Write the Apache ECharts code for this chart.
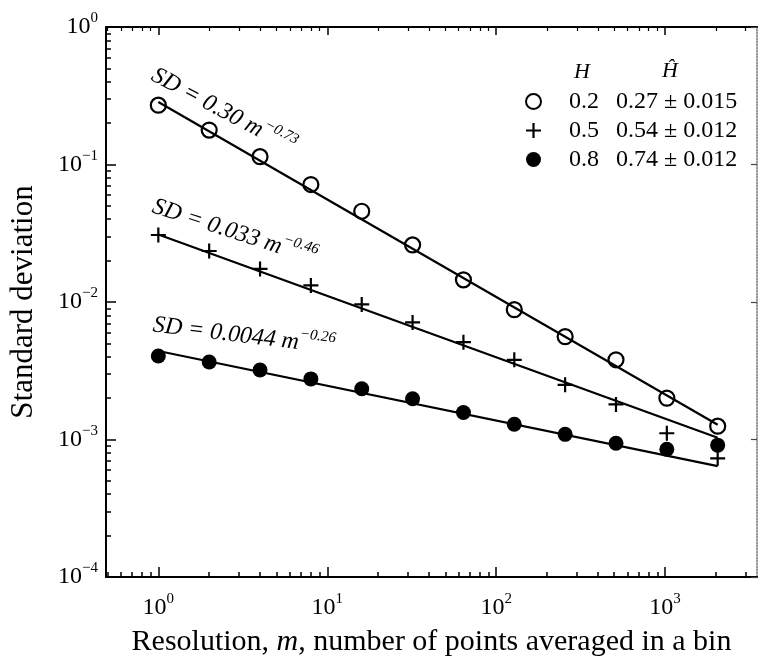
<!DOCTYPE html>
<html><head><meta charset="utf-8">
<script src="https://cdn.jsdelivr.net/npm/echarts@6/dist/echarts.min.js"></script>
<style>html,body{margin:0;padding:0;background:#fff}#c{width:760px;height:662px}</style>
</head><body><div id="c"></div>
<script>
// ---- data ----
const resolution = [1, 2, 4, 8, 16, 32, 64, 128, 256, 512, 1024, 2048];
const sdH02 = [0.27, 0.178, 0.114, 0.0715, 0.0457, 0.026, 0.0145, 0.0088, 0.0056, 0.0038, 0.0020, 0.00125];
const sdH05 = [0.0307, 0.0235, 0.0174, 0.0132, 0.0096, 0.0071, 0.0051, 0.0038, 0.0025, 0.0018, 0.00111, 0.00073];
const sdH08 = [0.00405, 0.00366, 0.0032, 0.00276, 0.00234, 0.00198, 0.00157, 0.00129, 0.00109, 0.00094, 0.00085, 0.00091];
const fitRange = [1, 2048];
const fitH02 = [0.285, 0.00128];
const fitH05 = [0.031, 0.00103];
const fitH08 = [0.0044, 0.00064];
const hValues = ['0.2', '0.5', '0.8'];
const hEstimates = ['0.27 ± 0.015', '0.54 ± 0.012', '0.74 ± 0.012'];
const fitLabels = [['SD = 0.30 m', '−0.73'], ['SD = 0.033 m', '−0.46'], ['SD = 0.0044 m', '−0.26']];
const xMajor = [1, 10, 100, 1000];
const yMajor = [1e-4, 1e-3, 1e-2, 1e-1, 1];
const xRange = [0.49, 3500];
const yRange = [1e-4, 1];

function minorTicks(decades, lo, hi) {
  const out = [];
  decades.forEach(d => { for (let k = 2; k <= 9; k++) { const v = +(d * k).toPrecision(3); if (v >= lo && v <= hi) out.push(v); } });
  return out;
}
const xMinor = minorTicks([0.1, 1, 10, 100, 1000], xRange[0], xRange[1]);
const yMinor = minorTicks([1e-4, 1e-3, 1e-2, 1e-1], yRange[0], yRange[1]);

const SERIF = '"Liberation Serif", "Times New Roman", serif';
function powLabel(v) {
  const e = Math.round(Math.log10(v));
  return '{b|10}{s|' + (e < 0 ? '−' + (-e) : e) + '}';
}
const powRich = {
  b: { fontFamily: SERIF, fontSize: 24, color: '#000' },
  s: { fontFamily: SERIF, fontSize: 15, color: '#000', padding: [0, 0, 17, 0] }
};
const PLUS = 'path://M6.4,0H8.6V6.4H15V8.6H8.6V15H6.4V8.6H0V6.4H6.4Z';

const chart = echarts.init(document.getElementById('c'), null, { renderer: 'canvas' });

function baseX(extra) {
  return Object.assign({ type: 'log', gridIndex: 0, min: xRange[0], max: xRange[1], splitLine: { show: false }, axisLabel: { show: false }, axisLine: { show: false } }, extra);
}
function baseY(extra) {
  return Object.assign({ type: 'log', gridIndex: 0, min: yRange[0], max: yRange[1], splitLine: { show: false }, axisLabel: { show: false }, axisLine: { show: false } }, extra);
}

const option = {
  animation: false,
  backgroundColor: '#fff',
  grid: { left: 105, right: 3, top: 27, bottom: 80, containLabel: false },
  xAxis: [
    baseX({ position: 'bottom',
      axisLine: { show: true, onZero: false, lineStyle: { color: '#000', width: 2 } },
      axisTick: { show: true, inside: true, length: 10, customValues: xMajor, lineStyle: { color: '#000', width: 1.5 } },
      axisLabel: { show: true, customValues: xMajor, margin: 15, formatter: powLabel, rich: powRich },
      name: 'Resolution, {i|m}, number of points averaged in a bin', nameLocation: 'middle', nameGap: 50,
      nameTextStyle: { fontFamily: SERIF, fontSize: 30, color: '#000', rich: { i: { fontFamily: SERIF, fontSize: 30, fontStyle: 'italic', color: '#000' } } }
    }),
    baseX({ position: 'bottom', axisTick: { show: true, inside: true, length: 5, customValues: xMinor, lineStyle: { color: '#000', width: 1.5 } } }),
    baseX({ position: 'top',
      axisLine: { show: true, onZero: false, lineStyle: { color: '#000', width: 2 } },
      axisTick: { show: true, inside: true, length: 8, customValues: xMajor, lineStyle: { color: '#000', width: 1.5 } } }),
    baseX({ position: 'top', axisTick: { show: true, inside: true, length: 4, customValues: xMinor, lineStyle: { color: '#000', width: 1.2 } } })
  ],
  yAxis: [
    baseY({ position: 'left',
      axisLine: { show: true, onZero: false, lineStyle: { color: '#000', width: 2 } },
      axisTick: { show: true, inside: true, length: 10, customValues: yMajor, lineStyle: { color: '#000', width: 1.5 } },
      axisLabel: { show: true, customValues: yMajor, margin: 8, formatter: powLabel, rich: powRich },
      name: 'Standard deviation', nameLocation: 'middle', nameGap: 67,
      nameTextStyle: { fontFamily: SERIF, fontSize: 31, color: '#000' }
    }),
    baseY({ position: 'left', axisTick: { show: true, inside: true, length: 5, customValues: yMinor, lineStyle: { color: '#000', width: 1.5 } } }),
    baseY({ position: 'right',
      axisLine: { show: true, onZero: false, lineStyle: { color: '#777', width: 1.5, type: 'dotted' } },
      axisTick: { show: true, inside: true, length: 6, customValues: yMajor, lineStyle: { color: '#444', width: 1.2 } } })
  ],
  legend: {
    data: hValues, orient: 'vertical', left: 525, top: 87, padding: 0, itemWidth: 15, itemHeight: 15, itemGap: 0,
    selectedMode: false,
    formatter: name => '{a|' + name + '}{b|' + hEstimates[hValues.indexOf(name)] + '}',
    textStyle: { fontFamily: SERIF, fontSize: 24, color: '#000', lineHeight: 29,
      rich: { a: { fontFamily: SERIF, fontSize: 24, color: '#000', width: 47, lineHeight: 29, padding: [0, 0, 0, 23] },
              b: { fontFamily: SERIF, fontSize: 24, color: '#000', lineHeight: 29 } } }
  },
  graphic: [
    { type: 'text', x: 574, y: 72, style: { text: 'H', font: 'italic 22px ' + SERIF, fill: '#000', align: 'left', verticalAlign: 'middle', textAlign: 'left', textVerticalAlign: 'middle' } },
    { type: 'text', x: 662, y: 71, style: { text: 'Ĥ', font: 'italic 22px ' + SERIF, fill: '#000', align: 'left', verticalAlign: 'middle', textAlign: 'left', textVerticalAlign: 'middle' } }
  ].concat([[153, 74, 28], [153, 206, 18], [153, 325, 7]].map((p, i) => ({
    type: 'text', x: p[0], y: p[1], rotation: -p[2] * Math.PI / 180,
    style: {
      text: '{t|' + fitLabels[i][0] + '}{s|' + fitLabels[i][1] + '}',
      align: 'left', verticalAlign: 'middle', textAlign: 'left', textVerticalAlign: 'middle',
      rich: {
        t: { font: 'italic 24px ' + SERIF, fill: '#000' },
        s: { font: 'italic 15px ' + SERIF, fill: '#000', padding: [0, 0, 18, 0] }
      }
    }
  }))),
  series: [
    { type: 'line', name: 'fit 0.2', xAxisIndex: 0, yAxisIndex: 0, data: fitRange.map((m, i) => [m, fitH02[i]]), symbol: 'none', lineStyle: { color: '#000', width: 2.2 }, z: 2, silent: true },
    { type: 'line', name: 'fit 0.5', xAxisIndex: 0, yAxisIndex: 0, data: fitRange.map((m, i) => [m, fitH05[i]]), symbol: 'none', lineStyle: { color: '#000', width: 2.2 }, z: 2, silent: true },
    { type: 'line', name: 'fit 0.8', xAxisIndex: 0, yAxisIndex: 0, data: fitRange.map((m, i) => [m, fitH08[i]]), symbol: 'none', lineStyle: { color: '#000', width: 2.2 }, z: 2, silent: true },
    { type: 'scatter', name: hValues[0], xAxisIndex: 0, yAxisIndex: 0, data: resolution.map((m, i) => [m, sdH02[i]]), symbol: 'circle', symbolSize: 15,
      itemStyle: { color: 'rgba(255,255,255,0)', borderColor: '#000', borderWidth: 2.2, opacity: 1 }, z: 3 },
    { type: 'scatter', name: hValues[1], xAxisIndex: 0, yAxisIndex: 0, data: resolution.map((m, i) => [m, sdH05[i]]), symbol: PLUS, symbolSize: 15,
      itemStyle: { color: '#000', opacity: 1 }, z: 3 },
    { type: 'scatter', name: hValues[2], xAxisIndex: 0, yAxisIndex: 0, data: resolution.map((m, i) => [m, sdH08[i]]), symbol: 'circle', symbolSize: 15,
      itemStyle: { color: '#000', opacity: 1 }, z: 3 }
  ]
};
chart.setOption(option);
</script>
</body></html>
